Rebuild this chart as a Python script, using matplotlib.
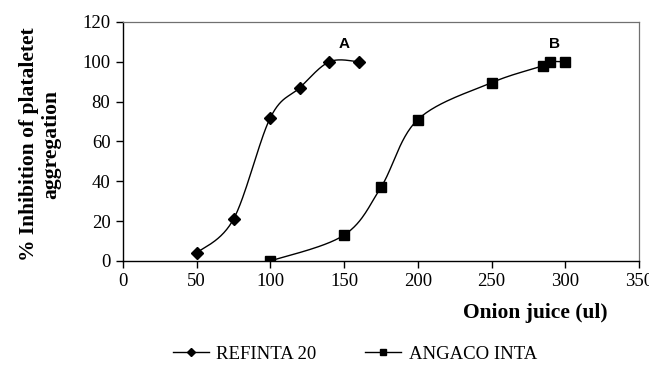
import numpy as np
import matplotlib
matplotlib.use("Agg")
import matplotlib.pyplot as plt
from matplotlib.lines import Line2D

# data
refinta_x = [50, 75, 100, 120, 140, 160]
refinta_y = [4, 21, 72, 87, 100, 100]
angaco_x = [100, 150, 175, 200, 250, 285, 290, 300]
angaco_y = [0, 13, 37, 71, 89.5, 98, 100, 100]
x_ticks = [0, 50, 100, 150, 200, 250, 300, 350]
y_ticks = [0, 20, 40, 60, 80, 100, 120]


def smooth(x, y, n=30):
    # Catmull-Rom curve through the points, like a spreadsheet "smoothed line"
    p = np.column_stack([x, y]).astype(float)
    p = np.vstack([p[0], p, p[-1]])
    out = []
    t = np.linspace(0, 1, n)[:, None]
    for i in range(1, len(p) - 2):
        p0, p1, p2, p3 = p[i - 1], p[i], p[i + 1], p[i + 2]
        seg = 0.5 * ((2 * p1) + (-p0 + p2) * t
                     + (2 * p0 - 5 * p1 + 4 * p2 - p3) * t ** 2
                     + (-p0 + 3 * p1 - 3 * p2 + p3) * t ** 3)
        out.append(seg)
    out = np.vstack(out)
    return out[:, 0], out[:, 1]


plt.rcParams['font.family'] = ['Liberation Serif', 'DejaVu Serif']

fig = plt.figure(figsize=(6.49, 3.66), dpi=100)
ax = fig.add_axes([0.1895, 0.287, 0.795, 0.653])

sx, sy = smooth(refinta_x, refinta_y)
ax.plot(sx, sy, color='black', lw=1)
ax.plot(refinta_x, refinta_y, ls='none', marker='D', ms=6, color='black')
sx, sy = smooth(angaco_x, angaco_y)
ax.plot(sx, sy, color='black', lw=1)
ax.plot(angaco_x, angaco_y, ls='none', marker='s', ms=7, color='black')

ax.text(150, 109, 'A', family='Liberation Sans', weight='bold', fontsize=11,
        ha='center', va='center')
ax.text(293, 109, 'B', family='Liberation Sans', weight='bold', fontsize=11,
        ha='center', va='center')

ax.set_xlim(0, 350)
ax.set_ylim(0, 120)
ax.set_xticks(x_ticks)
ax.set_yticks(y_ticks)
ax.tick_params(direction='out', length=5, width=1, labelsize=13.5, pad=4)
for s in ['top', 'right']:
    ax.spines[s].set_color('#707070')
    ax.spines[s].set_linewidth(0.9)
for s in ['left', 'bottom']:
    ax.spines[s].set_linewidth(1)

fig.text(0.937, 0.145, 'Onion juice (ul)', fontsize=15.5, weight='bold',
         ha='right', va='center')
fig.text(0.062, 0.605, '% Inhibition of plataletet\naggregation', fontsize=15.5,
         weight='bold', rotation=90, ha='center', va='center', linespacing=1.1)

handles = [Line2D([], [], color='black', lw=1, marker='D', ms=4),
           Line2D([], [], color='black', lw=1, marker='s', ms=5)]
fig.legend(handles, ['REFINTA 20', 'ANGACO INTA'], loc='center',
           bbox_to_anchor=(0.547, 0.032), ncol=2, frameon=False, fontsize=13.5,
           handlelength=1.9, columnspacing=2.6, handletextpad=0.4)

fig.savefig('out.png', dpi=100)
